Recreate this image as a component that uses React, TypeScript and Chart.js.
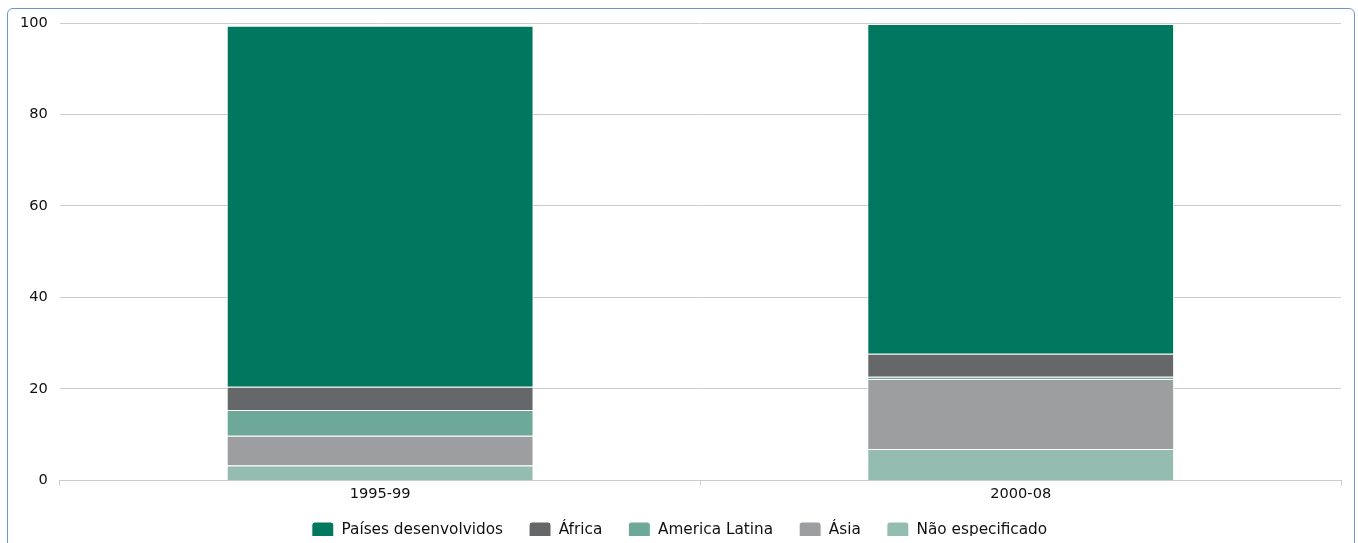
import React, { useEffect, useRef } from "react";
import { Chart, registerables } from "chart.js";

Chart.register(...registerables);

const categories = ["1995-99", "2000-08"];
const paisesDesenvolvidos = [78.9, 72.1];
const africa = [5.1, 5.0];
const americaLatina = [5.6, 0.5];
const asia = [6.5, 15.3];
const naoEspecificado = [3.3, 6.9];
const yTicks = [0, 20, 40, 60, 80, 100];

const FONT = "'DejaVu Sans', sans-serif";

const LEGEND_TOP = 496;
const LEGEND_DX = 5;

const legendShift = {
  id: "legendShift",
  afterLayout(chart: any) {
    const lg = chart.legend;
    if (!lg) return;
    const h = lg.bottom - lg.top;
    lg.top = LEGEND_TOP;
    lg.bottom = LEGEND_TOP + h;
    lg.left += LEGEND_DX;
    lg.right += LEGEND_DX;
  },
};

export default function App() {
  const ref = useRef<HTMLCanvasElement | null>(null);
  useEffect(() => {
    if (!ref.current) return;
    const mk = (label: string, data: number[], color: string) => ({
      label,
      data,
      backgroundColor: color,
      borderColor: "#ffffff",
      borderWidth: 1,
      barPercentage: 1,
      categoryPercentage: 0.479,
    });
    const chart = new Chart(ref.current, {
      type: "bar",
      plugins: [legendShift],
      data: {
        labels: categories,
        datasets: [
          mk("Não especificado", naoEspecificado, "#94bcb0"),
          mk("Ásia", asia, "#9d9ea0"),
          mk("America Latina", americaLatina, "#6da899"),
          mk("África", africa, "#666769"),
          mk("Países desenvolvidos", paisesDesenvolvidos, "#00775f"),
        ],
      },
      options: {
        responsive: false,
        animation: false,
        layout: { padding: { left: 8, right: 17, top: 23, bottom: 0 } },
        plugins: {
          tooltip: { enabled: false },
          legend: {
            position: "bottom",
            reverse: true,
            maxHeight: 40,
            labels: {
              font: { family: FONT, size: 15.3 },
              color: "#111",
              boxWidth: 22,
              boxHeight: 17,
              useBorderRadius: true,
              borderRadius: 3,
              padding: 26,
            },
          },
        },
        scales: {
          x: {
            stacked: true,
            grid: {
              display: true,
              drawOnChartArea: false,
              drawTicks: true,
              tickLength: 5,
              color: "#cccccc",
            },
            border: { display: true, color: "#cccccc" },
            ticks: { font: { family: FONT, size: 14.6 }, color: "#111", padding: 0 },
          },
          y: {
            stacked: true,
            min: 0,
            max: 100,
            afterBuildTicks: (axis: any) => {
              axis.ticks = yTicks.map((v) => ({ value: v }));
            },
            grid: { color: "#cccccc", drawTicks: false },
            border: { display: false },
            ticks: { font: { family: FONT, size: 14.6 }, color: "#111", padding: 12 },
          },
        },
      },
    });
    return () => chart.destroy();
  }, []);
  return (
    <div>
      <div
        style={{
          position: "absolute",
          left: 7,
          top: 8,
          width: 1348,
          height: 560,
          border: "1px solid #6f95cc",
          borderRadius: 6,
          boxSizing: "border-box",
        }}
      />
      <canvas
        ref={ref}
        width={1358}
        height={543}
        style={{ position: "absolute", left: 0, top: 0, display: "block" }}
      />
    </div>
  );
}
